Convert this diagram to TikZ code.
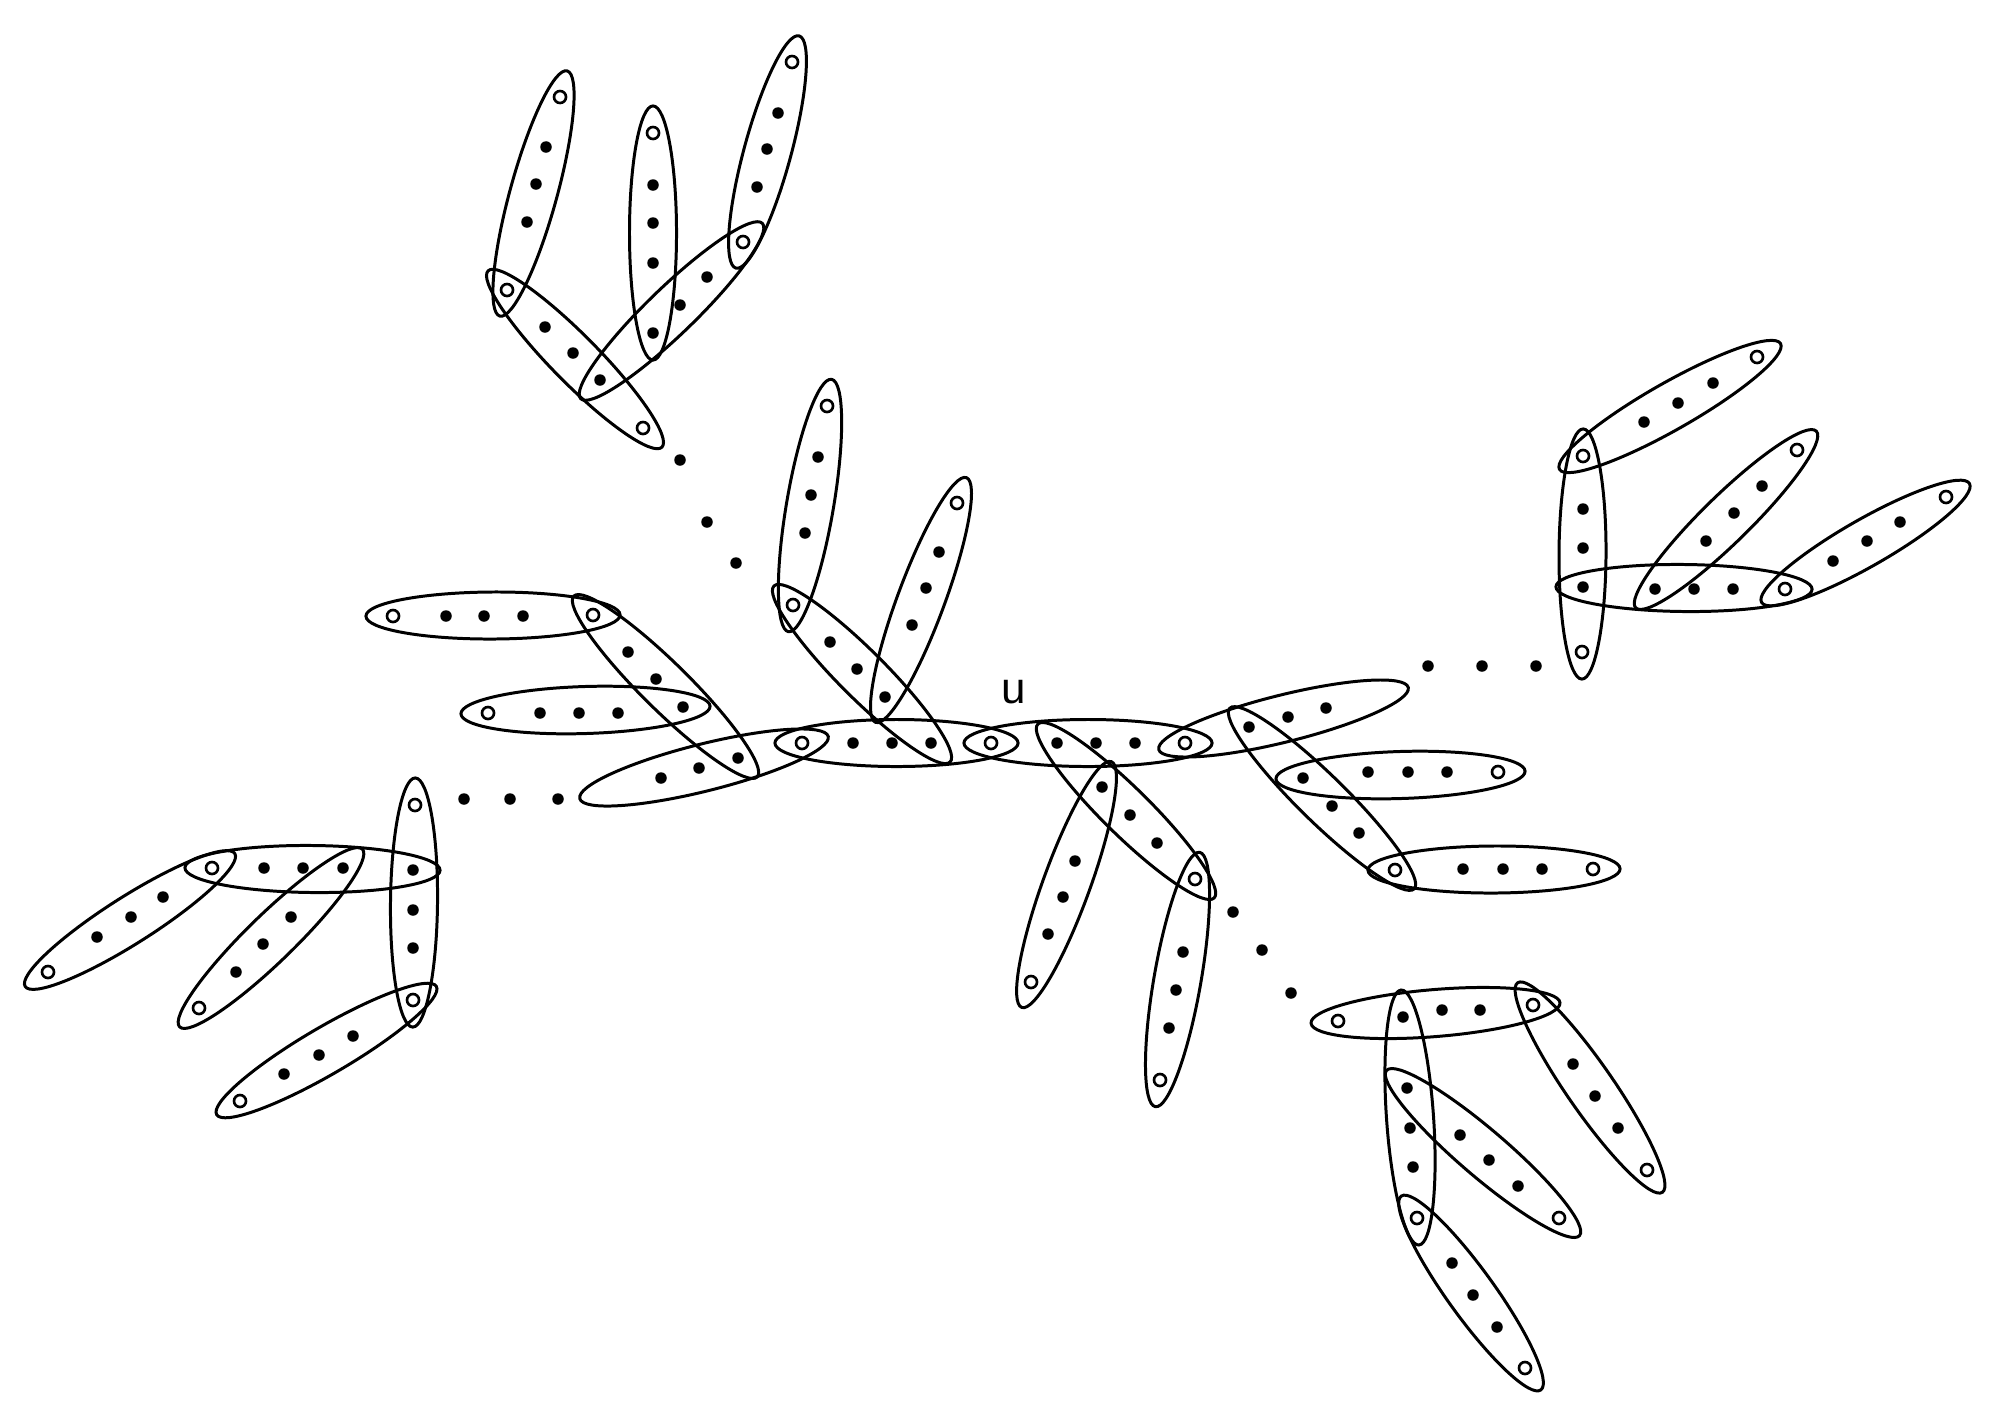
\documentclass[tikz,border=0pt]{standalone}
\usepackage{fontspec}
\newfontfamily\labelfont{Liberation Sans}
\usetikzlibrary{calc, shapes.geometric}

\tikzset{
    vtx/.style={circle, fill, inner sep=0pt, outer sep=0pt, minimum size=0.115cm},
    ovtx/.style={circle, draw, line width=0.75pt, inner sep=0pt, outer sep=0pt, minimum size=0.12cm},
    gapdot/.style={circle, fill, inner sep=0pt, outer sep=0pt, minimum size=0.115cm},
    hedgeshape/.style={ellipse, draw, line width=0.85pt, inner sep=0pt, outer sep=0pt, minimum height=0.47cm}
}

% ellipse round a hyperedge, from its first to its last vertex
\newcommand{\hedge}[3]{%
    \path let \p1=(#2.center), \p2=(#3.center),
        \n1={atan2(\y2-\y1,\x2-\x1)},
        \n2={veclen(\x2-\x1,\y2-\y1)+15.4}
    in node[hedgeshape, minimum width=\n2, rotate=\n1] (#1) at ($(#2.center)!0.5!(#3.center)$) {};}

\begin{document}
\begin{tikzpicture}[x=0.01cm, y=-0.01cm]
    \useasboundingbox (0,0) rectangle (1992,1424);

    % hollow vertices
    \foreach \n/\x/\y in {a1/560/97, a5/507/290, a9/643/428, a12/743/242, a13/653/133, a18/792/62,
        b1/393/616, b5/593/615, b10/488/713,
        c1/827/406, c5/793/605, c10/957/503,
        d1/802/743, u/991/743, d8/1185/743,
        e7/1395/870, e11/1498/772, e15/1593/869,
        f5/1195/879, f9/1031/982, f13/1160/1080,
        g1/1338/1021, g5/1533/1005, g9/1417/1218, g13/1559/1218, g17/1647/1170, g21/1525/1368,
        h1/1583/456, h5/1582/652, h9/1757/357, h13/1785/589, h17/1797/450, h21/1946/497,
        l1/415/805, l5/413/1000, l6/212/868, l13/48/972, l17/199/1008, l21/240/1101}
        \node[ovtx] (\n) at (\x,\y) {};

    % filled vertices
    \foreach \n/\x/\y in {a2/546/147, a3/536/184, a4/527/222, a6/545/327, a7/573/353, a8/600/380,
        a10/680/305, a11/707/277, a14/653/185, a15/653/223, a16/653/263, a17/653/333,
        a19/778/113, a20/767/149, a21/757/187,
        b2/446/616, b3/484/616, b4/523/616, b6/628/652, b7/656/679, b8/683/707, b9/738/758,
        b11/540/713, b12/579/713, b13/618/713, b14/661/778, b15/699/768,
        c2/818/457, c3/811/495, c4/805/533, c6/830/642, c7/857/669, c8/885/697, c9/931/743,
        c11/939/552, c12/926/588, c13/912/625,
        d2/853/743, d3/892/743, d5/1057/743, d6/1096/743, d7/1135/743,
        e1/1249/727, e2/1288/717, e3/1326/708, e4/1303/778, e5/1332/806, e6/1359/833,
        e8/1368/772, e9/1408/772, e10/1447/772, e12/1463/869, e13/1503/869, e14/1542/869,
        f2/1102/787, f3/1130/815, f4/1157/843, f6/1075/861, f7/1063/897, f8/1048/934,
        f10/1183/952, f11/1176/990, f12/1169/1028,
        g2/1403/1017, g3/1442/1010, g4/1480/1010, g6/1407/1088, g7/1410/1128, g8/1413/1167,
        g10/1460/1135, g11/1489/1160, g12/1518/1186, g14/1573/1064, g15/1595/1096, g16/1618/1128,
        g18/1452/1263, g19/1473/1295, g20/1497/1327,
        h2/1583/509, h3/1583/548, h4/1583/587, h6/1644/422, h7/1678/403, h8/1713/383,
        h10/1655/589, h11/1694/589, h12/1733/589, h14/1706/541, h15/1734/513, h16/1762/486,
        h18/1833/561, h19/1867/541, h20/1900/522,
        l2/413/870, l3/413/910, l4/413/948, l7/264/868, l8/303/868, l9/343/868,
        l10/163/897, l11/131/917, l12/97/937, l14/291/917, l15/263/944, l16/236/972,
        l18/353/1036, l19/319/1055, l20/284/1074}
        \node[vtx] (\n) at (\x,\y) {};

    % open ends of the two long central edges
    \coordinate (bend) at (606,792);
    \coordinate (eend) at (1382,694);

    % dots between the parts
    \foreach \n/\x/\y in {p1/680/460, p2/707/522, p3/736/563,
        q1/464/799, q2/510/799, q3/558/799,
        r1/1428/666, r2/1482/666, r3/1536/666,
        s1/1233/912, s2/1262/950, s3/1291/993}
        \node[gapdot] (\n) at (\x,\y) {};

    \hedge{eA1}{a1}{a5}
    \hedge{eA2}{a5}{a9}
    \hedge{eA3}{a8}{a12}
    \hedge{eA4}{a13}{a17}
    \hedge{eA5}{a18}{a12}
    \hedge{eB1}{b1}{b5}
    \hedge{eB2}{b5}{b9}
    \hedge{eB3}{b10}{b8}
    \hedge{eB4}{bend}{d1}
    \hedge{eC1}{c1}{c5}
    \hedge{eC2}{c5}{c9}
    \hedge{eC3}{c10}{c8}
    \hedge{eD1}{d1}{u}
    \hedge{eD2}{u}{d8}
    \hedge{eE1}{d8}{eend}
    \hedge{eE2}{e1}{e7}
    \hedge{eE3}{e4}{e11}
    \hedge{eE4}{e7}{e15}
    \hedge{eF1}{d5}{f5}
    \hedge{eF2}{f2}{f9}
    \hedge{eF3}{f5}{f13}
    \hedge{eG1}{g1}{g5}
    \hedge{eG2}{g2}{g9}
    \hedge{eG3}{g6}{g13}
    \hedge{eG4}{g5}{g17}
    \hedge{eG5}{g9}{g21}
    \hedge{eH1}{h1}{h5}
    \hedge{eH2}{h1}{h9}
    \hedge{eH3}{h4}{h13}
    \hedge{eH4}{h10}{h17}
    \hedge{eH5}{h13}{h21}
    \hedge{eL1}{l1}{l5}
    \hedge{eL2}{l6}{l2}
    \hedge{eL3}{l6}{l13}
    \hedge{eL4}{l9}{l17}
    \hedge{eL5}{l5}{l21}

    \node[inner sep=0pt] (ulabel) at (1014,692) {\labelfont\fontsize{12.5}{14}\selectfont u};
\end{tikzpicture}
\end{document}
